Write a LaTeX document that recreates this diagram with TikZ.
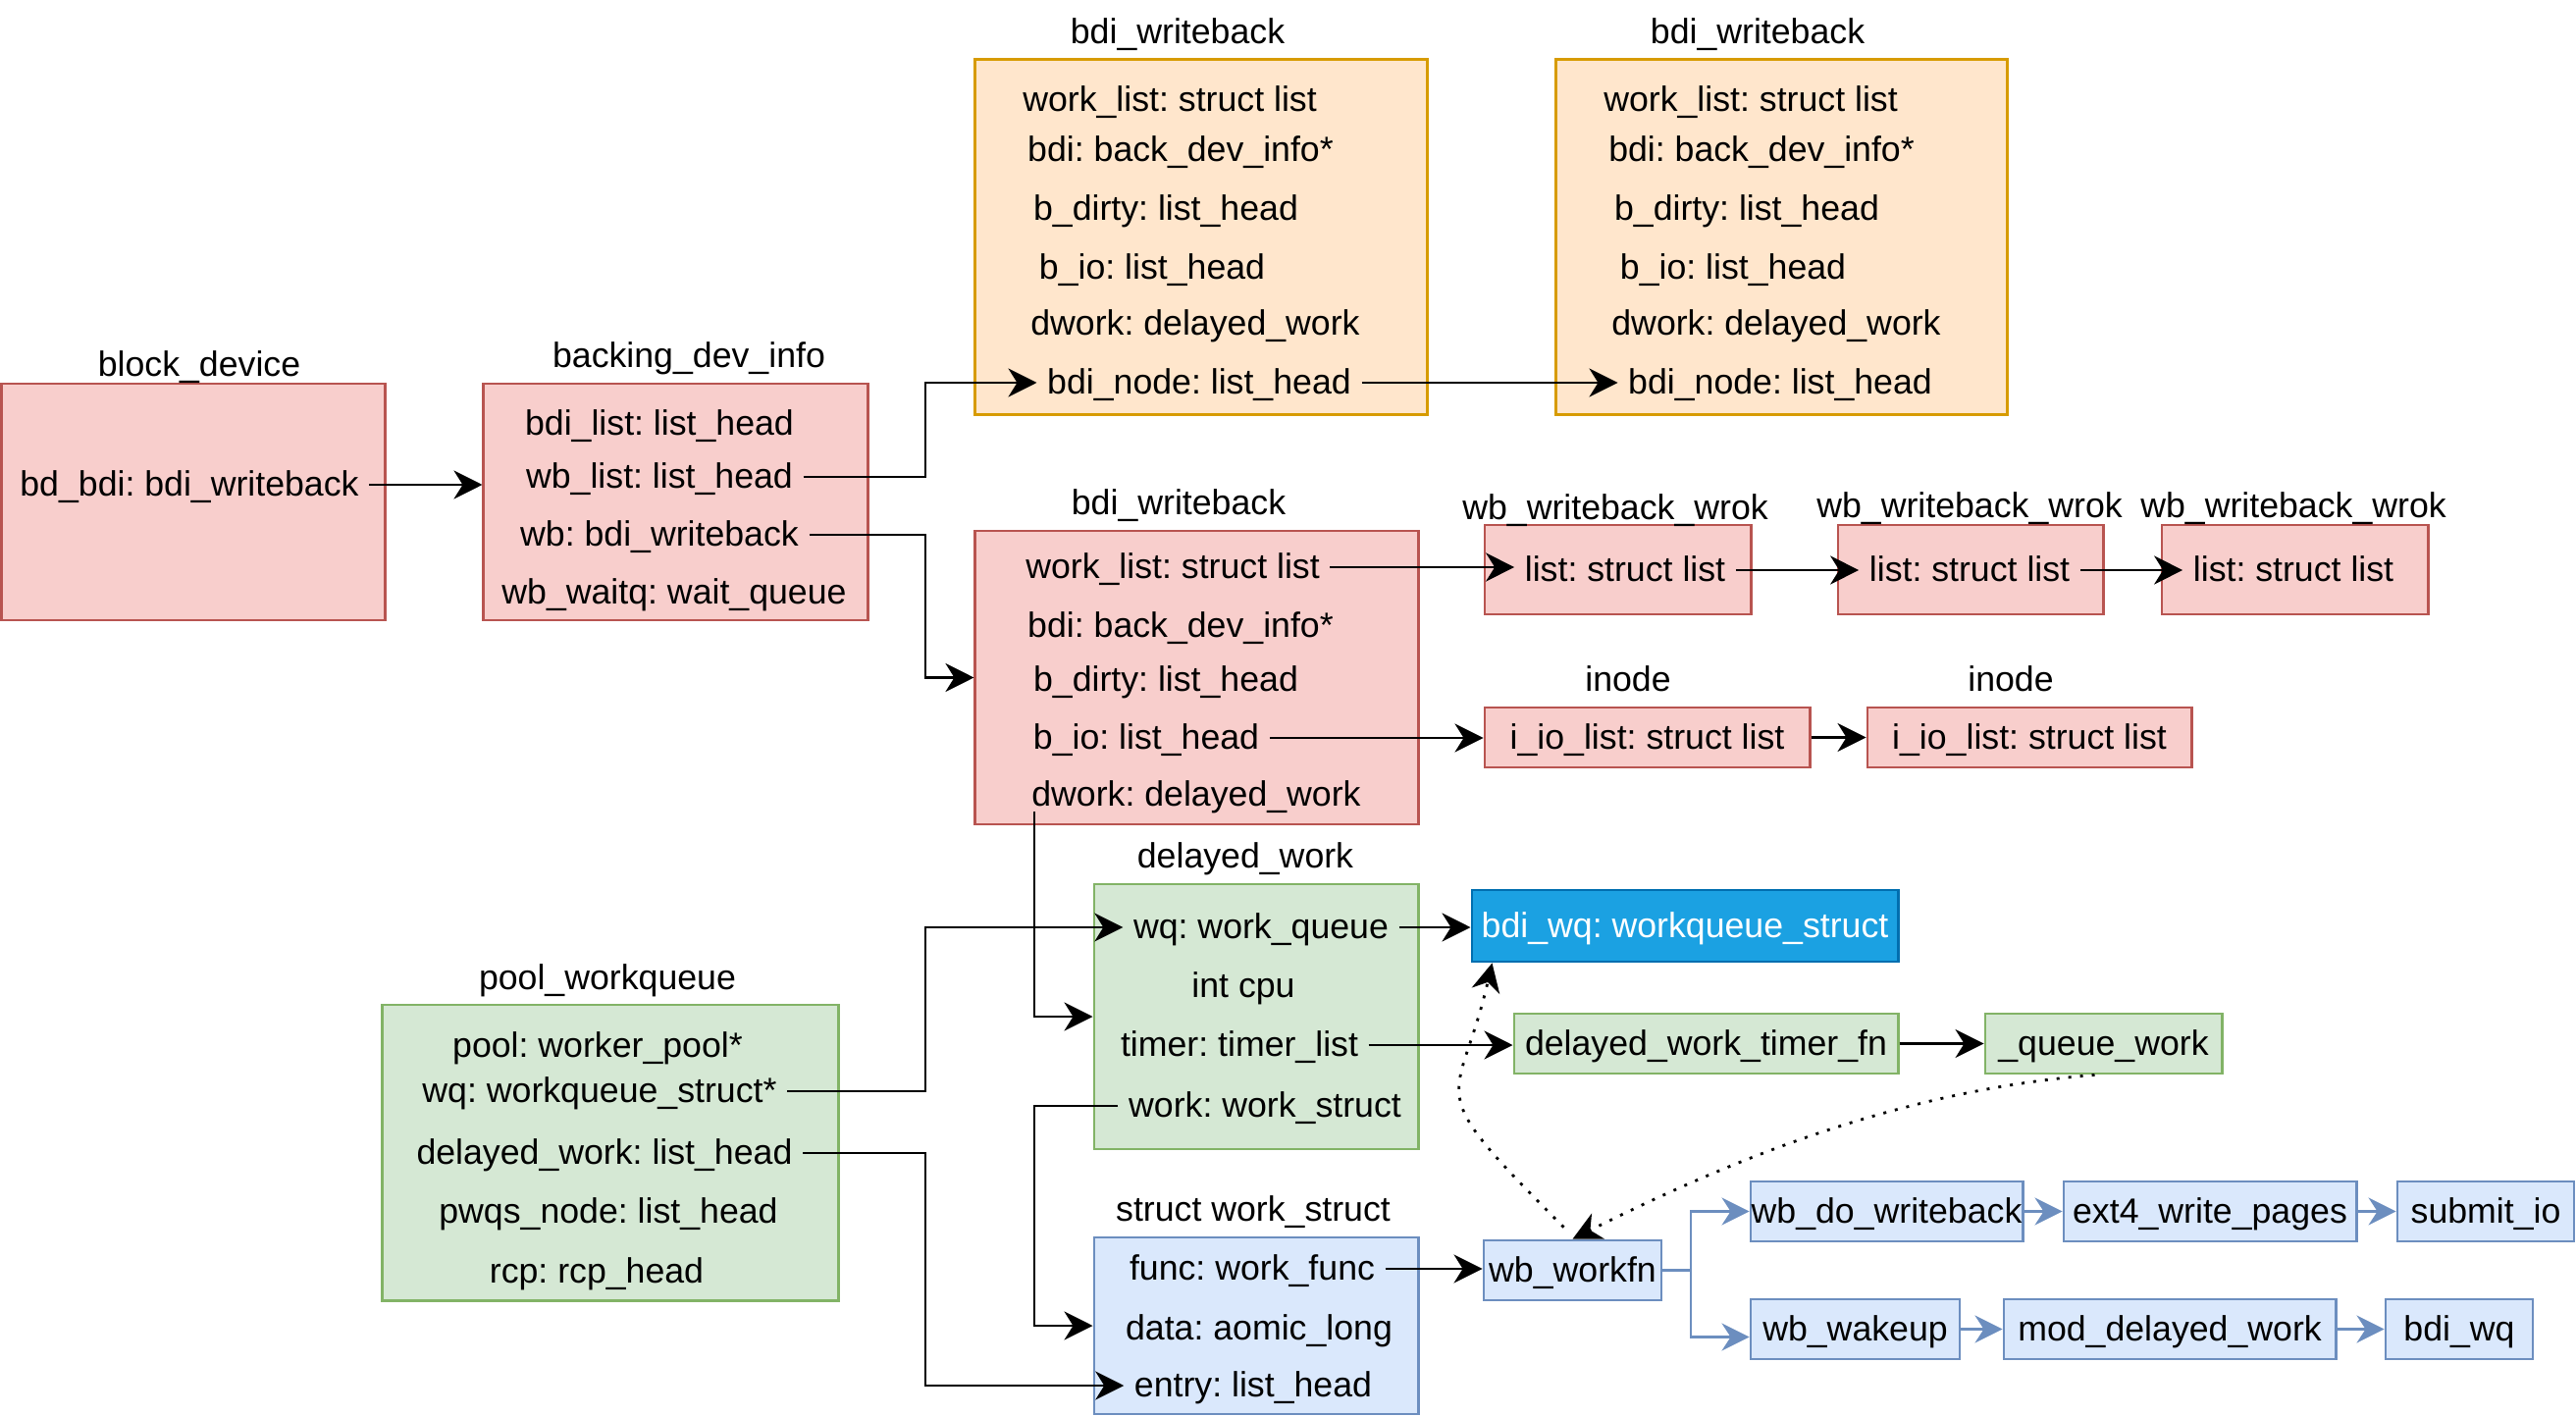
\documentclass[tikz,border=0pt]{standalone}
\usepackage{fontspec}
\setmainfont{Liberation Sans}
\frenchspacing
\usetikzlibrary{arrows.meta}

\definecolor{redfill}{HTML}{F8CECC}
\definecolor{redline}{HTML}{B85450}
\definecolor{orgfill}{HTML}{FFE6CC}
\definecolor{orgline}{HTML}{D79B00}
\definecolor{grnfill}{HTML}{D5E8D4}
\definecolor{grnline}{HTML}{82B366}
\definecolor{blufill}{HTML}{DAE8FC}
\definecolor{bluline}{HTML}{6C8EBF}
\definecolor{dkfill}{HTML}{1BA1E2}
\definecolor{dkline}{HTML}{006EAF}

\begin{document}
\begin{tikzpicture}[x=0.01cm, y=-0.01cm,
  font=\fontsize{10.15pt}{12pt}\selectfont,
  lw/.style={line width=0.028cm},
  txt/.style={text height=0.8em, text depth=0.14em},
  box/.style={draw, lw, inner sep=0pt, txt},
  redbox/.style={box, fill=redfill, draw=redline},
  orgbox/.style={box, fill=orgfill, draw=orgline},
  grnbox/.style={box, fill=grnfill, draw=grnline},
  blubox/.style={box, fill=blufill, draw=bluline},
  dkbox/.style={box, fill=dkfill, draw=dkline, text=white},
  ttl/.style={inner sep=0pt, txt},
  fld/.style={inner xsep=0.1cm, inner ysep=0pt, txt},
  tip/.style={-{Stealth[length=0.29cm, width=0.29cm, inset=0.09cm]}},
  arr/.style={lw, tip},
  barr/.style={lw, draw=bluline, -{Stealth[length=0.28cm, width=0.28cm, inset=0.09cm, color=bluline]}},
  darr/.style={lw, tip, dash pattern=on 0.03cm off 0.09cm}
]
\useasboundingbox (0,0) rectangle (2625,1443);

% ---------- structure boxes ----------
\node[redbox, minimum width=3.90cm, minimum height=2.41cm] (blk) at (197,511.5) {};
\node[redbox, minimum width=3.91cm, minimum height=2.41cm] (bdi) at (688.5,511.5) {};
\node[orgbox, minimum width=4.60cm, minimum height=3.61cm] (top1) at (1224,241.5) {};
\node[orgbox, minimum width=4.59cm, minimum height=3.61cm] (top2) at (1815.5,241.5) {};
\node[redbox, minimum width=4.51cm, minimum height=2.99cm] (mid) at (1219.5,690.5) {};
\node[redbox, minimum width=2.71cm, minimum height=0.91cm] (wwA) at (1648.5,580.5) {};
\node[redbox, minimum width=2.70cm, minimum height=0.91cm] (wwB) at (2008,580.5) {};
\node[redbox, minimum width=2.71cm, minimum height=0.91cm] (wwC) at (2338.5,580.5) {};
\node[redbox, minimum width=3.31cm, minimum height=0.61cm] (inD) at (1678.5,751.5) {i\_io\_list: struct list};
\node[redbox, minimum width=3.30cm, minimum height=0.61cm] (inE) at (2068,751.5) {i\_io\_list: struct list};
\node[grnbox, minimum width=3.30cm, minimum height=2.70cm] (dw) at (1280,1036) {};
\node[grnbox, minimum width=4.64cm, minimum height=3.01cm] (pool) at (622,1174.5) {};
\node[blubox, minimum width=3.30cm, minimum height=1.80cm] (ws) at (1280,1351) {};

% ---------- function / queue boxes ----------
\node[dkbox, minimum width=4.34cm, minimum height=0.73cm] (bdiwq) at (1717,943.5) {bdi\_wq: workqueue\_struct};
\node[grnbox, minimum width=3.91cm, minimum height=0.61cm] (dwtf) at (1738.5,1063.5) {delayed\_work\_timer\_fn};
\node[grnbox, minimum width=2.41cm, minimum height=0.61cm] (qwork) at (2143.5,1063.5) {\_queue\_work};
\node[blubox, minimum width=1.81cm, minimum height=0.61cm] (wbfn) at (1602.5,1294.5) {wb\_workfn};
\node[blubox, minimum width=2.77cm, minimum height=0.61cm] (wbdo) at (1922.5,1234.5) {wb\_do\_writeback};
\node[blubox, minimum width=2.98cm, minimum height=0.61cm] (ext4) at (2252,1234.5) {ext4\_write\_pages};
\node[blubox, minimum width=1.80cm, minimum height=0.61cm] (submit) at (2533,1234.5) {submit\_io};
\node[blubox, minimum width=2.13cm, minimum height=0.61cm] (wbwake) at (1890.5,1354.5) {wb\_wakeup};
\node[blubox, minimum width=3.38cm, minimum height=0.61cm] (mod) at (2211,1354.5) {mod\_delayed\_work};
\node[blubox, minimum width=1.50cm, minimum height=0.61cm] (bdiwq2) at (2506,1354.5) {bdi\_wq};

% ---------- titles ----------
\node[ttl] (tBlk) at (203,372) {block\_device};
\node[ttl] (tBdi) at (702,363) {backing\_dev\_info};
\node[ttl] (tTop1) at (1200,33) {bdi\_writeback};
\node[ttl] (tTop2) at (1791,33) {bdi\_writeback};
\node[ttl] (tMid) at (1201,513) {bdi\_writeback};
\node[ttl] (tA) at (1646,518) {wb\_writeback\_wrok};
\node[ttl] (tB) at (2007,516) {wb\_writeback\_wrok};
\node[ttl] (tC) at (2337,516) {wb\_writeback\_wrok};
\node[ttl] (tD) at (1659,693) {inode};
\node[ttl] (tE) at (2049,693) {inode};
\node[ttl] (tDw) at (1269,873) {delayed\_work};
\node[ttl] (tPool) at (619,997) {pool\_workqueue};
\node[ttl] (tWs) at (1277,1233) {struct work\_struct};

% ---------- fields ----------
\node[fld] (bdtx) at (193,494) {bd\_bdi: bdi\_writeback};

\node[fld] (bList) at (672,432) {bdi\_list: list\_head};
\node[fld] (wbList) at (672,486) {wb\_list: list\_head};
\node[fld] (wbF) at (672,545) {wb: bdi\_writeback};
\node[fld] (wbWait) at (687,604) {wb\_waitq: wait\_queue};

\node[fld] (t1Work) at (1192,102) {work\_list: struct list};
\node[fld] (t1Bdi) at (1203,153) {bdi: back\_dev\_info*};
\node[fld] (t1Dirty) at (1188,213) {b\_dirty: list\_head};
\node[fld] (t1Io) at (1174,273) {b\_io: list\_head};
\node[fld] (t1Dwork) at (1218,330) {dwork: delayed\_work};
\node[fld] (t1Node) at (1222,390) {bdi\_node: list\_head};

\node[fld] (t2Work) at (1784,102) {work\_list: struct list};
\node[fld] (t2Bdi) at (1795,153) {bdi: back\_dev\_info*};
\node[fld] (t2Dirty) at (1780,213) {b\_dirty: list\_head};
\node[fld] (t2Io) at (1766,273) {b\_io: list\_head};
\node[fld] (t2Dwork) at (1810,330) {dwork: delayed\_work};
\node[fld] (t2Node) at (1814,390) {bdi\_node: list\_head};

\node[fld] (mWork) at (1195,578) {work\_list: struct list};
\node[fld] (mBdi) at (1203,638) {bdi: back\_dev\_info*};
\node[fld] (mDirty) at (1188,693) {b\_dirty: list\_head};
\node[fld] (mIo) at (1168,752) {b\_io: list\_head};
\node[fld] (mDwork) at (1219,810) {dwork: delayed\_work};

\node[fld] (wwAt) at (1656,581) {list: struct list};
\node[fld] (wwBt) at (2007,581) {list: struct list};
\node[fld] (wwCt) at (2337,581) {list: struct list};

\node[fld] (dWq) at (1285,945) {wq: work\_queue};
\node[fld] (dCpu) at (1267,1005) {int cpu};
\node[fld] (dTimer) at (1263,1065) {timer: timer\_list};
\node[fld] (dWork) at (1289,1127) {work: work\_struct};

\node[fld] (pPool) at (609,1066) {pool: worker\_pool*};
\node[fld] (pWq) at (611,1112) {wq: workqueue\_struct*};
\node[fld] (pDw) at (616,1175) {delayed\_work: list\_head};
\node[fld] (pPwqs) at (620,1235) {pwqs\_node: list\_head};
\node[fld] (pRcp) at (608,1296) {rcp: rcp\_head};

\node[fld] (sFunc) at (1276,1293) {func: work\_func};
\node[fld] (sData) at (1283,1354) {data: aomic\_long};
\node[fld] (sEntry) at (1277,1412) {entry: list\_head};

% ---------- bend columns ----------
\coordinate (busA) at (943,0);
\coordinate (busP) at (943,0);
\coordinate (busD) at (1054,0);
\coordinate (busW) at (1723,0);

% ---------- black connectors ----------
\draw[arr] (bdtx.east) -- (bdtx.east -| bdi.west);
\draw[arr] (wbList.east) -- (wbList.east -| busA) |- (t1Node.west);
\draw[arr] (wbF.east) -- (wbF.east -| busA) |- (mid.west);
\draw[arr] (t1Node.east) -- (t2Node.west);
\draw[arr] (mWork.east) -- (mWork.east -| wwAt.west);
\draw[arr] (wwAt.east) -- (wwBt.west);
\draw[arr] (wwBt.east) -- (wwCt.west);
\draw[arr] (mIo.east) -- (mIo.east -| inD.west);
\draw[arr] (inD.east) -- (inE.west);
\draw[arr] (pWq.east) -- (pWq.east -| busP) |- (dWq.west);
\draw[arr] (pDw.east) -- (pDw.east -| busP) |- (sEntry.west);
\draw[arr] (mDwork.south -| busD) |- (dw.west);
\draw[arr] (dWork.west) -- (dWork.west -| busD) |- (ws.west);
\draw[arr] (dWq.east) -- (dWq.east -| bdiwq.west);
\draw[arr] (dTimer.east) -- (dTimer.east -| dwtf.west);
\draw[arr] (dwtf.east) -- (qwork.west);
\draw[arr] (sFunc.east) -- (sFunc.east -| wbfn.west);

% ---------- call chain ----------
\draw[barr] (wbfn.east) -- (wbfn.east -| busW) |- (wbdo.west);
\draw[barr] (wbfn.east -| busW) |- ([yshift=-0.08cm]wbwake.west);
\draw[barr] (wbdo.east) -- (ext4.west);
\draw[barr] (ext4.east) -- (submit.west);
\draw[barr] (wbwake.east) -- (mod.west);
\draw[barr] (mod.east) -- (bdiwq2.west);

% ---------- dotted relations ----------
\draw[darr] ([xshift=-0.09cm,yshift=0.12cm]wbfn.north)
  .. controls +(-150,-150) and +(-34.5,150) .. ([xshift=0.22cm]bdiwq.south west);
\draw[darr] ([xshift=-0.09cm]qwork.south)
  .. controls +(-200,16) and +(160,-80) .. (wbfn.north);
\end{tikzpicture}
\end{document}
